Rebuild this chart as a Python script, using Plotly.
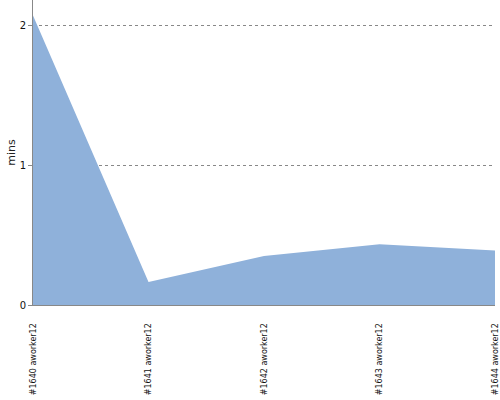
import plotly.graph_objects as go

categories = ["#1640 aworker12", "#1641 aworker12", "#1642 aworker12", "#1643 aworker12", "#1644 aworker12"]
values = [2.07, 0.165, 0.35, 0.435, 0.39]
y_ticks = [0, 1, 2]

fig = go.Figure()
fig.add_trace(go.Scatter(
    x=categories, y=values, mode="lines", fill="tozeroy",
    line=dict(color="#8FB1DA", width=0), fillcolor="#8FB1DA",
    hoverinfo="skip",
))
fig.update_layout(
    width=500, height=400,
    margin=dict(l=33, r=5, t=0, b=95),
    paper_bgcolor="white", plot_bgcolor="white",
    showlegend=False,
    font=dict(family="DejaVu Sans", size=11, color="#222"),
    xaxis=dict(
        range=[0, 4], tickangle=-90, showgrid=False, automargin=False,
        showline=True, linecolor="#888", linewidth=1,
        ticks="outside", ticklen=14, tickcolor="rgba(0,0,0,0)", ticklabeloverflow="allow",
        tickfont=dict(family="DejaVu Sans", size=8, color="#111"),
        zeroline=False,
    ),
    yaxis=dict(
        range=[0, 2.18], tickvals=y_ticks, showgrid=True, automargin=False,
        gridcolor="#888", griddash="dot", gridwidth=1,
        showline=True, linecolor="#888", linewidth=1,
        ticks="outside", ticklen=4, tickcolor="#888",
        tickfont=dict(size=10, color="#111"),
        title=dict(text="mins", font=dict(size=11, color="#222"), standoff=1),
        zeroline=False,
    ),
)
fig.write_html("out.html", config={"displayModeBar": False},
               post_script="document.body.style.margin='0';document.body.style.overflow='hidden';")
